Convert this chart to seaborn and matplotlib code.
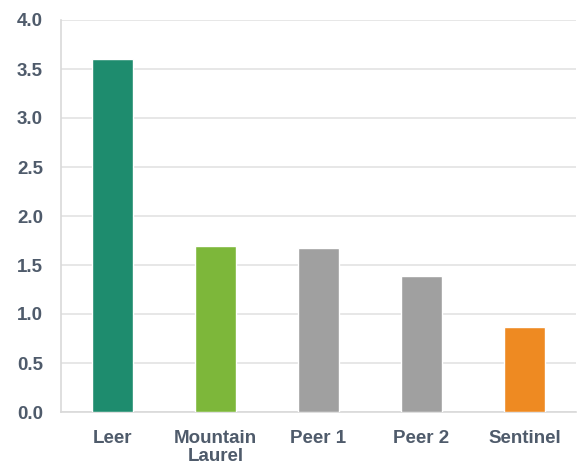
import matplotlib
matplotlib.use("Agg")
import matplotlib.pyplot as plt
import seaborn as sns
import pandas as pd
import numpy as np

# data
sites = ["Leer", "Mountain\nLaurel", "Peer 1", "Peer 2", "Sentinel"]
values = [3.60, 1.69, 1.67, 1.39, 0.87]
bar_colors = ["#1E8C6E", "#7DB73A", "#A0A0A0", "#A0A0A0", "#EE8A22"]
y_ticks = [0.0, 0.5, 1.0, 1.5, 2.0, 2.5, 3.0, 3.5, 4.0]

df = pd.DataFrame({"site": sites, "value": values})

sns.set_style("white")
plt.rcParams["font.family"] = ["Liberation Sans", "DejaVu Sans"]

fig = plt.figure(figsize=(5.78, 4.65), dpi=100)
ax = fig.add_axes([61 / 578, 53 / 465, 515 / 578, 392 / 465])

sns.barplot(data=df, x="site", y="value", hue="site", palette=bar_colors,
            legend=False, width=0.4, saturation=1, ax=ax, zorder=3)

ax.set_ylim(0, 4.0)
ax.set_xlim(-0.5, 4.5)
ax.set_yticks(y_ticks)
ax.set_yticklabels([f"{t:.1f}" for t in y_ticks])
ax.yaxis.grid(True, color="#E3E3E3", linewidth=1.2, zorder=0)
ax.set_axisbelow(True)

# category boundary ticks on the x axis
ax.set_xticks(np.arange(len(sites)))
ax.set_xticks(np.arange(len(sites) + 1) - 0.5, minor=True)
ax.tick_params(axis="x", which="major", length=0, pad=13)
ax.tick_params(axis="x", which="minor", length=5, color="#D9D9D9", width=1)
ax.tick_params(axis="y", length=0, pad=13)

label_color = "#4F5B6B"
for lab in ax.get_xticklabels() + ax.get_yticklabels():
    lab.set_fontweight("bold")
    lab.set_fontsize(13.5)
    lab.set_color(label_color)
for lab in ax.get_xticklabels():
    lab.set_linespacing(1.05)

ax.set_xlabel("")
ax.set_ylabel("")
for side in ["top", "right"]:
    ax.spines[side].set_visible(False)
for side in ["left", "bottom"]:
    ax.spines[side].set_color("#D9D9D9")
    ax.spines[side].set_linewidth(1.2)

fig.savefig("out.png", dpi=100)
